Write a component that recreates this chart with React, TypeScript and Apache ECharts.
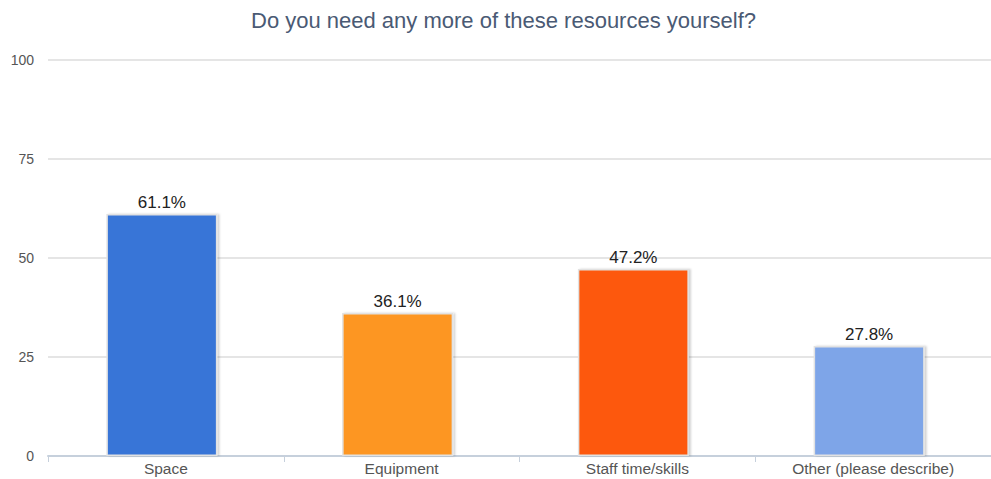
import React, { useEffect, useRef } from "react";
import * as echarts from "echarts";

const categories = ["Space", "Equipment", "Staff time/skills", "Other (please describe)"];
const values = [61.1, 36.1, 47.2, 27.8];
const barColors = ["#3875d7", "#fd9620", "#fd5808", "#7ea5e8"];
const yTicks = [0, 25, 50, 75, 100];

const FONT = "Liberation Sans, Arial, sans-serif";

export default function App() {
  const ref = useRef<HTMLDivElement>(null);
  useEffect(() => {
    if (!ref.current) return;
    const chart = echarts.init(ref.current, undefined, { renderer: "svg" });
    chart.setOption({
      animation: false,
      backgroundColor: "#ffffff",
      title: {
        text: "Do you need any more of these resources yourself?",
        left: 246,
        top: 4,
        textStyle: {
          fontFamily: FONT,
          fontSize: 22,
          fontWeight: "normal",
          color: "#4a5a74",
        },
      },
      grid: { left: 48, right: -11, top: 60, bottom: 23, containLabel: false },
      xAxis: {
        type: "category",
        data: categories,
        axisLine: { lineStyle: { color: "#c6d0dc", width: 2 } },
        axisTick: { show: true, length: 6, lineStyle: { color: "#c6d0dc" } },
        axisLabel: {
          color: "#555",
          fontSize: 15.5,
          fontFamily: FONT,
          margin: 4,
        },
      },
      yAxis: {
        type: "value",
        min: 0,
        max: 100,
        interval: 25,
        axisLine: { show: false },
        axisTick: { show: false },
        splitLine: { lineStyle: { color: "#dcdcdc", width: 1.5 } },
        axisLabel: {
          color: "#555",
          fontSize: 14,
          fontFamily: FONT,
          margin: 14,
          formatter: (v: number) => (yTicks.includes(v) ? String(v) : ""),
        },
      },
      series: [
        {
          type: "bar",
          barWidth: 111,
          barGap: "0%",
          data: values.map((v, i) => ({
            value: v,
            itemStyle: {
              color: barColors[i],
              borderColor: "#e2e2e2",
              borderWidth: 1.5,
              shadowColor: "rgba(0,0,0,0.18)",
              shadowOffsetX: 2,
              shadowOffsetY: 0,
              shadowBlur: 2,
            },
          })),
          label: {
            show: true,
            position: "top",
            distance: 3,
            formatter: (p: any) => p.value.toFixed(1) + "%",
            color: "#222",
            fontSize: 17,
            fontFamily: FONT,
          },
        },
        {
          type: "bar",
          barWidth: 8,
          silent: true,
          data: values.map(() => 0),
          itemStyle: { opacity: 0 },
          label: { show: false },
        },
      ],
    });
    return () => chart.dispose();
  }, []);
  return (
    <div
      ref={ref}
      style={{ position: "fixed", left: 0, top: 0, width: 991, height: 479 }}
    />
  );
}
